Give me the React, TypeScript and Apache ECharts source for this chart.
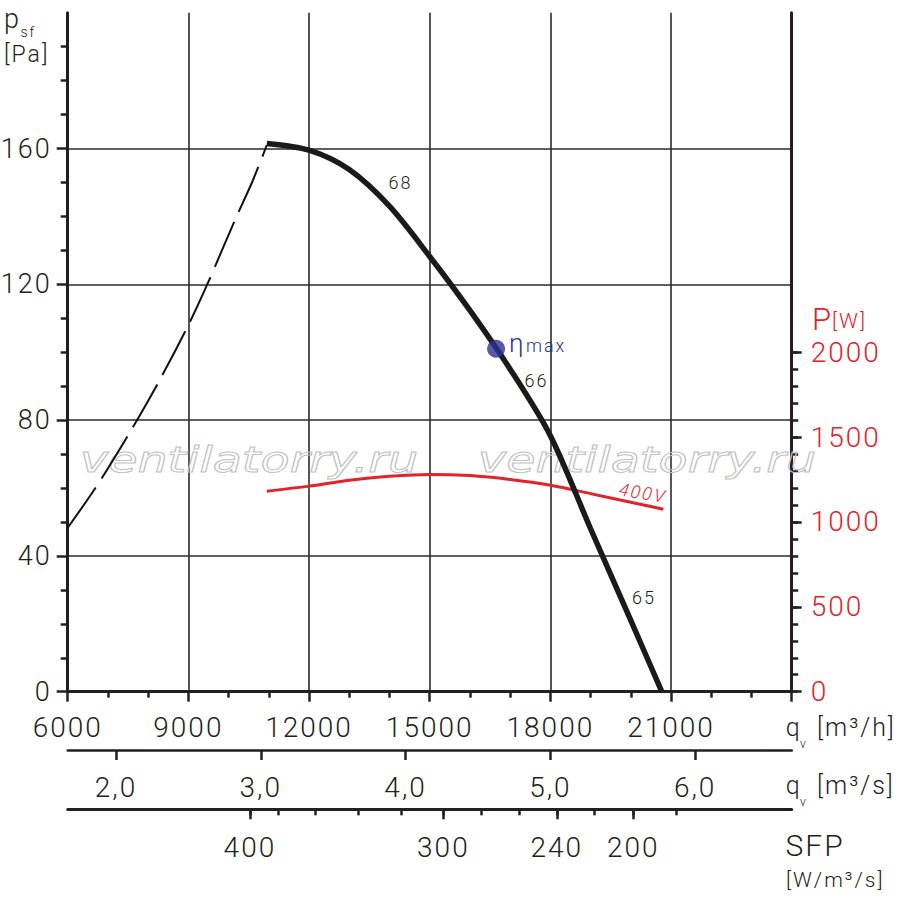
import React, { useEffect, useRef } from 'react';
import * as echarts from 'echarts';

// ---- axis ticks / labels ----
const flowAxisLabels = [6000, 9000, 12000, 15000, 18000, 21000]; // m3/h
const flowM3sLabels = [2, 3, 4, 5, 6]; // m3/s
const pressureLabels = [0, 40, 80, 120, 160]; // Pa
const powerLabels = [0, 500, 1000, 1500, 2000]; // W
const powerMinorTicks = [0, 100, 200, 300, 400, 500, 600, 700, 800, 900, 1000, 1100, 1200, 1300, 1400, 1500, 1600, 1700, 1800, 1900, 2000];

// SFP scale: SFP value and the flow (m3/h) where it sits
const sfpValues = [400, 380, 360, 340, 320, 300, 280, 260, 240, 220, 200, 180];
const sfpFlow = [10530, 11240, 12150, 13225, 14300, 15340, 16290, 17230, 18160, 19090, 20060, 21140];
const sfpMajor = [400, 300, 240, 200];

// ---- curves ----
const stallFlow = [6000, 6700, 7500, 8250, 9000, 9500, 10150, 10600, 10950];
const stallPressure = [48.3, 60.2, 75.5, 91, 108, 120.8, 138.7, 150.5, 161];

const curveFlow = [10950, 12000, 13000, 14000, 15000, 16000, 17000, 18000, 19000, 20000, 20770];
const curvePressure = [161.5, 159.5, 153.8, 143, 128.2, 112.3, 95, 75.4, 48, 21, 0];

const powerFlow = [10950, 12000, 13000, 14000, 15000, 16000, 17000, 18000, 19000, 20000, 20810];
const powerW = [1181, 1211, 1246, 1269, 1280, 1273, 1250, 1216, 1167, 1116, 1075];

const etaMaxFlow = [16650];
const etaMaxPressure = [101];

const FLOW_MIN = 6000;
const FLOW_MAX = 24000;

const INK = '#231f20';
const RED = '#e4222a';
const BLUE = '#2e3192';
const FONT = 'Roboto';

const zip = (a: number[], b: number[]) => a.map((v, i) => [v, b[i]]);

const txt = (
  text: string,
  x: number,
  y: number,
  fontSize: number,
  extra: any = {}
) => ({
  type: 'text',
  x,
  y,
  z: 50,
  rotation: extra.rotation || 0,
  style: {
    text,
    fontSize,
    fontFamily: FONT,
    fontWeight: 300,
    fontStyle: extra.fontStyle || 'normal',
    fill: extra.fill || INK,
    align: extra.align || 'left',
    verticalAlign: 'middle',
    textAlign: extra.align || 'left',
    textVerticalAlign: 'middle',
  },
});

const watermark = (x: number) => ({
  type: 'text',
  x,
  y: 459.6,
  scaleX: 1.36,
  z: 1,
  silent: true,
  style: {
    text: 'ventilatorry.ru',
    fontFamily: 'DejaVu Sans',
    fontStyle: 'italic',
    fontSize: 35,
    fill: 'none',
    stroke: '#c2c2c2',
    lineWidth: 1,
    align: 'left',
    verticalAlign: 'middle',
  },
});

const tickStyle = { color: INK, width: 2.5 };
const labelBase = { fontFamily: FONT, fontWeight: 300 as any, fontSize: 28, color: INK };
const plain = (v: number) => String(v);

function buildOption(): any {
  const sfpMajorFlow = sfpMajor.map((s) => sfpFlow[sfpValues.indexOf(s)]);
  return {
    animation: false,
    backgroundColor: '#ffffff',
    grid: {
      left: 67.7,
      top: 12.7,
      right: 108.3,
      bottom: 216.3,
      containLabel: false,
      outerBoundsMode: 'none',
    },
    xAxis: [
      {
        type: 'value',
        min: FLOW_MIN,
        max: FLOW_MAX,
        interval: 3000,
        position: 'bottom',
        axisLine: { show: true, onZero: false, lineStyle: { color: INK, width: 3 } },
        axisTick: { show: true, length: 10, lineStyle: tickStyle },
        minorTick: { show: true, splitNumber: 3, length: 6, lineStyle: tickStyle },
        splitLine: { show: true, lineStyle: { color: '#2b2b2b', width: 1.6 } },
        axisLabel: { ...labelBase, margin: 22, customValues: flowAxisLabels, formatter: plain },
      },
      {
        type: 'value',
        min: FLOW_MIN / 3600,
        max: FLOW_MAX / 3600,
        position: 'bottom',
        offset: 58.3,
        axisLine: { show: true, onZero: false, lineStyle: { color: INK, width: 2.5 } },
        axisTick: { show: true, length: 10, lineStyle: tickStyle, customValues: flowM3sLabels },
        splitLine: { show: false },
        axisLabel: {
          ...labelBase,
          margin: 23,
          customValues: flowM3sLabels,
          formatter: (v: number) => v.toFixed(1).replace('.', ','),
        },
      },
      {
        type: 'value',
        min: FLOW_MIN,
        max: FLOW_MAX,
        position: 'bottom',
        offset: 117.6,
        axisLine: { show: true, onZero: false, lineStyle: { color: INK, width: 3 } },
        axisTick: { show: true, length: 6, lineStyle: tickStyle, customValues: sfpFlow },
        splitLine: { show: false },
        axisLabel: { show: false },
      },
      {
        type: 'value',
        min: FLOW_MIN,
        max: FLOW_MAX,
        position: 'bottom',
        offset: 117.6,
        axisLine: { show: false, onZero: false },
        axisTick: { show: true, length: 10, lineStyle: tickStyle, customValues: sfpMajorFlow },
        splitLine: { show: false },
        axisLabel: {
          ...labelBase,
          margin: 24,
          customValues: sfpMajorFlow,
          formatter: (v: number) => String(sfpValues[sfpFlow.indexOf(v)]),
        },
      },
    ],
    yAxis: [
      {
        type: 'value',
        min: 0,
        max: 200,
        interval: 40,
        position: 'left',
        axisLine: { show: true, onZero: false, lineStyle: { color: INK, width: 3 } },
        axisTick: { show: true, length: 11, lineStyle: tickStyle, customValues: pressureLabels },
        minorTick: { show: true, splitNumber: 4, length: 7, lineStyle: tickStyle },
        splitLine: { show: true, lineStyle: { color: '#2b2b2b', width: 1.6 } },
        axisLabel: { ...labelBase, fontSize: 27, margin: 16, customValues: pressureLabels, formatter: plain },
      },
      {
        type: 'value',
        min: 0,
        max: 4000,
        position: 'right',
        axisLine: { show: true, onZero: false, lineStyle: { color: INK, width: 3 } },
        axisTick: { show: true, length: 10, lineStyle: tickStyle, customValues: powerLabels },
        splitLine: { show: false },
        axisLabel: { ...labelBase, color: RED, margin: 19, customValues: powerLabels, formatter: plain },
      },
      {
        type: 'value',
        min: 0,
        max: 4000,
        position: 'right',
        axisLine: { show: false, onZero: false },
        axisTick: { show: true, length: 6.5, lineStyle: tickStyle, customValues: powerMinorTicks },
        splitLine: { show: false },
        axisLabel: { show: false },
      },
    ],
    series: [
      {
        type: 'line',
        name: 'stall',
        xAxisIndex: 0,
        yAxisIndex: 0,
        data: zip(stallFlow, stallPressure),
        smooth: 0.3,
        symbol: 'none',
        z: 3,
        lineStyle: { color: '#111111', width: 2, type: [49, 11] },
      },
      {
        type: 'line',
        name: 'psf',
        xAxisIndex: 0,
        yAxisIndex: 0,
        data: zip(curveFlow, curvePressure),
        smooth: 0.3,
        symbol: 'none',
        z: 4,
        lineStyle: { color: '#1a1a1a', width: 5.5 },
      },
      {
        type: 'line',
        name: 'P 400V',
        xAxisIndex: 0,
        yAxisIndex: 1,
        data: zip(powerFlow, powerW),
        smooth: 0.3,
        symbol: 'none',
        z: 3,
        lineStyle: { color: RED, width: 3 },
      },
      {
        type: 'scatter',
        name: 'eta max',
        xAxisIndex: 0,
        yAxisIndex: 0,
        data: zip(etaMaxFlow, etaMaxPressure),
        symbol: 'circle',
        symbolSize: 18,
        z: 6,
        itemStyle: { color: BLUE },
      },
    ],
    graphic: [
      watermark(80),
      watermark(478),
      // left axis unit
      txt('p', 4, 19.1, 27),
      txt('sf', 20.5, 31.5, 14),
      txt('[Pa]', 4, 54, 23),
      // right axis unit
      txt('P', 812, 319, 31, { fill: RED }),
      txt('[W]', 832, 320.6, 21, { fill: RED }),
      // flow units
      txt('q', 785.7, 727.7, 25),
      txt('v', 800, 743.5, 12),
      txt('[m³/h]', 817, 727.7, 25),
      txt('q', 785.7, 785.7, 25),
      txt('v', 800, 801.5, 12),
      txt('[m³/s]', 817, 785.7, 25),
      txt('SFP', 785.5, 845.5, 30),
      txt('[W/m³/s]', 786, 879.6, 21),
      // curve annotations
      txt('68', 400.5, 182.6, 18, { align: 'center' }),
      txt('66', 536.5, 380.6, 18, { align: 'center' }),
      txt('65', 644, 597, 18, { align: 'center' }),
      txt('400V', 643, 492.8, 18, { align: 'center', fill: RED, fontStyle: 'italic', rotation: -0.17 }),
      txt('η', 509, 342.7, 26, { fill: BLUE }),
      txt('max', 526, 345.3, 18, { fill: BLUE }),
    ],
  };
}

const css = `
.fanchart text[style*="Roboto"] { letter-spacing: 2px; }
`;

export default function App() {
  const ref = useRef<HTMLDivElement>(null);
  useEffect(() => {
    if (!ref.current) return;
    const chart = echarts.init(ref.current, null, { renderer: 'svg' });
    chart.setOption(buildOption());
    return () => chart.dispose();
  }, []);
  return (
    <>
      <style>{css}</style>
      <div
        ref={ref}
        className="fanchart"
        style={{ position: 'absolute', left: 0, top: 0, width: 900, height: 908, background: '#fff' }}
      />
    </>
  );
}
